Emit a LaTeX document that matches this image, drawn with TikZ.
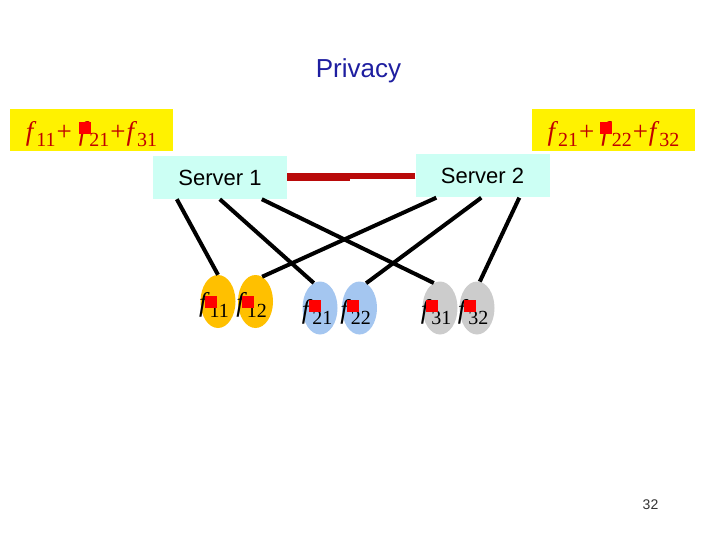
\documentclass[tikz,border=0pt]{standalone}
\usepackage{fontspec}
\setmainfont{Liberation Sans}
\newfontfamily\eqfont{Liberation Serif}
\usetikzlibrary{shapes.geometric,calc}
\newcommand\flab[1]{{\eqfont\itshape f}\kern3pt\raisebox{-6pt}{\eqfont\fontsize{20}{22}\selectfont #1}}
\newcommand\fplus{\kern1pt{\eqfont +}\kern1pt}
\definecolor{darkred}{RGB}{192,0,0}
\definecolor{linered}{RGB}{185,10,10}
\definecolor{navy}{RGB}{30,30,160}
\definecolor{srvfill}{RGB}{204,255,244}
\definecolor{orangef}{RGB}{255,192,0}
\definecolor{bluef}{RGB}{164,198,240}
\definecolor{grayf}{RGB}{204,204,204}
\begin{document}
\begin{tikzpicture}[x=1pt,y=-1pt,
 server/.style={fill=srvfill, minimum width=134pt, minimum height=43pt, inner sep=0pt, font=\fontsize{22}{26}\selectfont},
 sumbox/.style={fill=yellow, minimum width=163pt, minimum height=42pt, inner sep=0pt, text=darkred,
   text height=20.8pt, text depth=0pt, font=\fontsize{27}{30}\selectfont},
 file/.style={ellipse, minimum width=35pt, minimum height=53pt, inner sep=0pt},
 redsq/.style={fill=red, minimum size=12pt, inner sep=0pt},
 flabel/.style={anchor=base, font=\fontsize{27}{30}\selectfont, inner sep=0pt},
 link/.style={line width=4pt, black},
 redlink/.style={draw=linered}
]
\useasboundingbox (0,0) rectangle (720,540);
\node[font=\fontsize{26}{30}\selectfont, text=navy, anchor=base, inner sep=0pt] (title) at (358.5,78) {Privacy};

% sum boxes
\node[sumbox] (sumL) at (91.5,130) {\flab{11}\fplus\kern6pt\flab{21}\fplus\flab{31}};
\node[sumbox] (sumR) at (613.5,130) {\flab{21}\fplus\kern6pt\flab{22}\fplus\flab{32}};
\node[redsq] (qL) at ($(sumL.center)+(-7,-2)$) {};
\node[redsq] (qR) at ($(sumR.center)+(-7.5,-2)$) {};

% servers
\node[server] (s1) at (220,177.5) {Server 1};
\node[server] (s2) at (482.5,176) {Server 2};
\coordinate (mid) at (350,176);
\draw[redlink, line width=8pt] (s1.east) -- (s1.east -| mid);
\draw[redlink, line width=6pt] (s2.west) -- (s2.west -| mid);

% files
\node[file, fill=orangef] (e11) at (218,301.5) {};
\node[file, fill=orangef] (e12) at (255.5,301.5) {};
\node[file, fill=bluef] (e21) at (320,308) {};
\node[file, fill=bluef] (e22) at (359.5,308) {};
\node[file, fill=grayf] (e31) at (440,308) {};
\node[file, fill=grayf] (e32) at (477,308) {};

% links
\draw[link] ([xshift=24pt]s1.south west) -- (e11.north);
\draw[link] ([xshift=67pt]s1.south west) -- (e21.104);
\draw[link] ([xshift=109pt]s1.south west) -- (e31.104);
\draw[link] ([xshift=21pt]s2.south west) -- (e12.75);
\draw[link] ([xshift=66pt]s2.south west) -- (e22.75);
\draw[link] ([xshift=104pt]s2.south west) -- (e32.84);

% labels
\node[flabel] (l11) at ($(e11.center)+(-4,10)$) {\flab{11}};
\node[flabel] (l12) at ($(e12.center)+(-4,10)$) {\flab{12}};
\node[flabel] (l21) at ($(e21.center)+(-3,10)$) {\flab{21}};
\node[flabel] (l22) at ($(e22.center)+(-4,10)$) {\flab{22}};
\node[flabel] (l31) at ($(e31.center)+(-4,10)$) {\flab{31}};
\node[flabel] (l32) at ($(e32.center)+(-4,10)$) {\flab{32}};
\node[redsq] (q11) at ($(e11.center)+(-7.5,0.5)$) {};
\node[redsq] (q12) at ($(e12.center)+(-8,0.5)$) {};
\node[redsq] (q21) at ($(e21.center)+(-5.5,-2)$) {};
\node[redsq] (q22) at ($(e22.center)+(-7,-2)$) {};
\node[redsq] (q31) at ($(e31.center)+(-8,-2)$) {};
\node[redsq] (q32) at ($(e32.center)+(-7.5,-2)$) {};

\node[font=\fontsize{14}{16}\selectfont, anchor=base, inner sep=0pt, text=black!80] (pg) at (650.5,509) {32};
\end{tikzpicture}
\end{document}
